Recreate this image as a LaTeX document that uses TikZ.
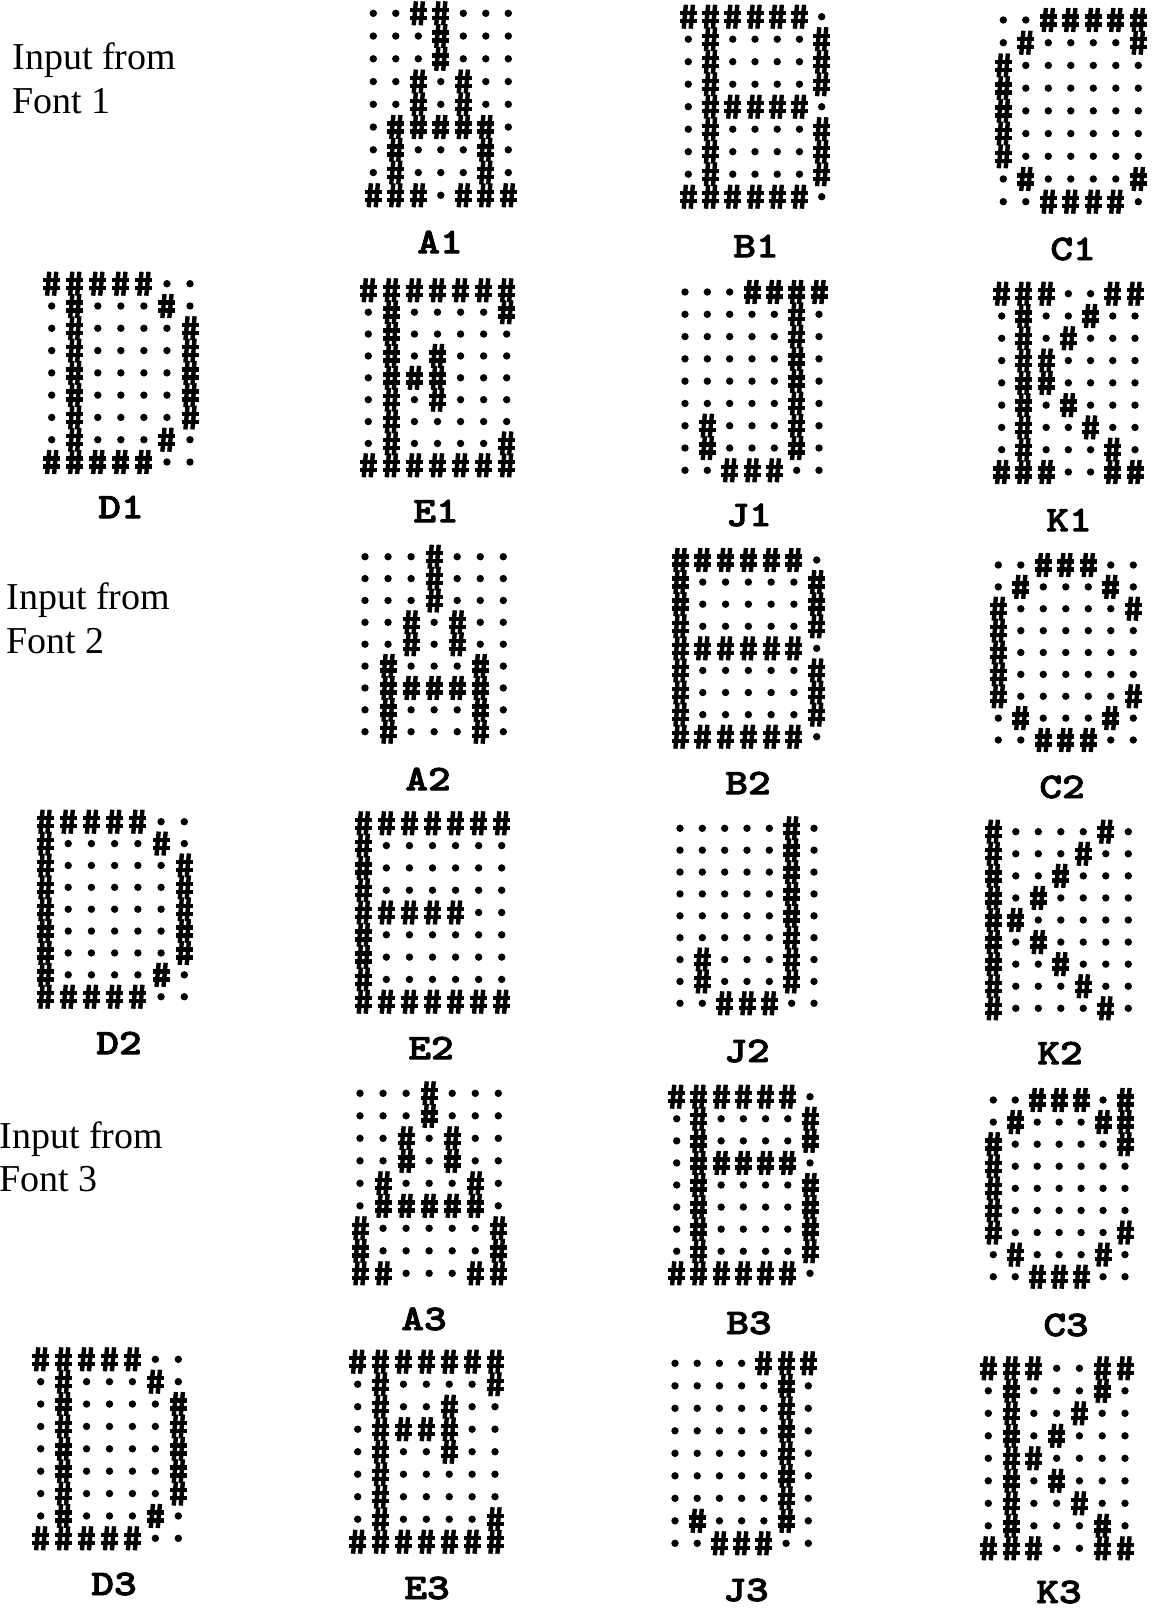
\documentclass[tikz,border=0pt]{standalone}
\usepackage{fontspec}
\newfontfamily\tnr{Liberation Serif}
\newfontfamily\labfont{lmmonolt10-bold.otf}[FakeBold=2.5,FakeStretch=1.2]
\tikzset{
  hashline/.style={line width=2.2pt},
  hash/.pic={
    \draw[hashline] (-2.4,-12) -- (-4.6,12);
    \draw[hashline] (4.6,-12) -- (2.4,12);
    \draw[hashline] (-8.5,-3.5) -- (8.5,-3.5);
    \draw[hashline] (-8.5,4.5) -- (8.5,4.5);
  },
  lab/.style={font=\labfont\fontsize{18}{20}\selectfont, inner sep=0pt},
  intext/.style={font=\tnr\fontsize{19}{22}\selectfont, inner sep=0pt}
}
\def\hcprocess#1{%
  \ifx#1\relax
  \else
    \ifx#1H\pic at (\cx,\cy) {hash};\else\fill (\cx,\cy) circle[radius=1.85pt];\fi
    \pgfmathsetmacro\cx{\cx+\ldx}%
    \expandafter\hcprocess
  \fi}
\newcommand\hcletter[8]{%
  \pgfmathsetmacro\ldx{(#3-#2)/6}%
  \pgfmathsetmacro\ldy{(#5-#4)/8}%
  \foreach \rw [count=\ri from 0] in {#6} {%
    \pgfmathsetmacro\cy{#4+\ri*\ldy}%
    \pgfmathsetmacro\cx{#2}%
    \expandafter\hcprocess\rw\relax
  }%
  \node[lab] (#1) at (#7,#8) {#1};
}
\begin{document}
\begin{tikzpicture}[x=0.5pt,y=-0.5pt]
\useasboundingbox (0,0) rectangle (1153,1608);
% side texts
\node[intext, anchor=base west] (in1) at (12,69) {Input from};
\node[intext, anchor=base west] (fo1) at (12,113) {Font 1};
\node[intext, anchor=base west] (in2) at (6,609) {Input from};
\node[intext, anchor=base west] (fo2) at (6,653) {Font 2};
\node[intext, anchor=base west] (in3) at (-1,1148) {Input from};
\node[intext, anchor=base west] (fo3) at (-1,1191) {Font 3};
% font 1
\hcletter{A1}{373.3}{508.3}{13.3}{195.3}{ooHHooo,oooHooo,oooHooo,ooHoHoo,ooHoHoo,oHHHHHo,oHoooHo,oHoooHo,HHHoHHH}{440}{242}
\hcletter{B1}{688.3}{821.7}{16.7}{196.7}{HHHHHHo,oHooooH,oHooooH,oHooooH,oHHHHHo,oHooooH,oHooooH,oHooooH,HHHHHHo}{756}{246}
\hcletter{C1}{1003.3}{1138.3}{20}{201.7}{ooHHHHH,oHooooH,Hoooooo,Hoooooo,Hoooooo,Hoooooo,Hoooooo,oHooooH,ooHHHHo}{1073}{249}
\hcletter{D1}{51.7}{190}{283.7}{462}{HHHHHoo,oHoooHo,oHooooH,oHooooH,oHooooH,oHooooH,oHooooH,oHoooHo,HHHHHoo}{121}{507}
\hcletter{E1}{368.3}{506.7}{290.3}{465.3}{HHHHHHH,oHooooH,oHooooo,oHoHooo,oHHHooo,oHoHooo,oHooooo,oHooooH,HHHHHHH}{436}{511}
\hcletter{J1}{685}{819}{292}{470.3}{oooHHHH,oooooHo,oooooHo,oooooHo,oooooHo,oooooHo,oHoooHo,oHoooHo,ooHHHoo}{749}{515}
\hcletter{K1}{1001.7}{1135}{293.7}{472}{HHHooHH,oHooHoo,oHoHooo,oHHoooo,oHHoooo,oHoHooo,oHooHoo,oHoooHo,HHHooHH}{1069}{520}
% font 2
\hcletter{A2}{365}{503.3}{556.7}{731.7}{oooHooo,oooHooo,oooHooo,ooHoHoo,ooHoHoo,oHoooHo,oHHHHHo,oHoooHo,oHoooHo}{428}{779}
\hcletter{B2}{680}{816.7}{560}{736.7}{HHHHHHo,HoooooH,HoooooH,HoooooH,HHHHHHo,HoooooH,HoooooH,HoooooH,HHHHHHo}{748}{783}
\hcletter{C2}{998.3}{1133.3}{565}{740}{ooHHHoo,oHoooHo,HoooooH,Hoooooo,Hoooooo,Hoooooo,HoooooH,oHoooHo,ooHHHoo}{1062}{787}
\hcletter{D2}{45}{184.3}{821.7}{996.7}{HHHHHoo,HooooHo,HoooooH,HoooooH,HoooooH,HoooooH,HoooooH,HooooHo,HHHHHoo}{119}{1043}
\hcletter{E2}{363.3}{501.7}{823.3}{1001.7}{HHHHHHH,Hoooooo,Hoooooo,Hoooooo,HHHHHoo,Hoooooo,Hoooooo,Hoooooo,HHHHHHH}{431}{1048}
\hcletter{J2}{680}{814}{828.3}{1003.3}{oooooHo,oooooHo,oooooHo,oooooHo,oooooHo,oooooHo,oHoooHo,oHoooHo,ooHHHoo}{747}{1051}
\hcletter{K2}{993.3}{1128.3}{831.7}{1008.3}{HooooHo,HoooHoo,HooHooo,HoHoooo,HHooooo,HoHoooo,HooHooo,HoooHoo,HooooHo}{1060}{1053}
% font 3
\hcletter{A3}{360}{498.3}{1093.3}{1273.3}{oooHooo,oooHooo,ooHoHoo,ooHoHoo,oHoooHo,oHHHHHo,HoooooH,HoooooH,HHoooHH}{424}{1319}
\hcletter{B3}{676.7}{810}{1096.7}{1273.3}{HHHHHHo,oHooooH,oHooooH,oHHHHHo,oHooooH,oHooooH,oHooooH,oHooooH,HHHHHHo}{749}{1323}
\hcletter{C3}{993.3}{1125}{1100}{1276.7}{ooHHHoH,oHoooHH,HoooooH,Hoooooo,Hoooooo,Hoooooo,HoooooH,oHoooHo,ooHHHoo}{1066}{1325}
\hcletter{D3}{40.7}{178.3}{1359.3}{1538.3}{HHHHHoo,oHoooHo,oHooooH,oHooooH,oHooooH,oHooooH,oHooooH,oHoooHo,HHHHHoo}{114}{1584}
\hcletter{E3}{357.7}{495}{1361.7}{1541.7}{HHHHHHH,oHooooH,oHooHoo,oHHHHoo,oHooHoo,oHooooo,oHooooo,oHooooH,HHHHHHH}{427}{1588}
\hcletter{J3}{675}{808.3}{1363.3}{1543.3}{ooooHHH,oooooHo,oooooHo,oooooHo,oooooHo,oooooHo,oooooHo,oHoooHo,ooHHHoo}{746}{1590}
\hcletter{K3}{988.3}{1125}{1368.3}{1548.3}{HHHooHH,oHoooHo,oHooHoo,oHoHooo,oHHoooo,oHoHooo,oHooHoo,oHoooHo,HHHooHH}{1059}{1592}
\end{tikzpicture}
\end{document}
